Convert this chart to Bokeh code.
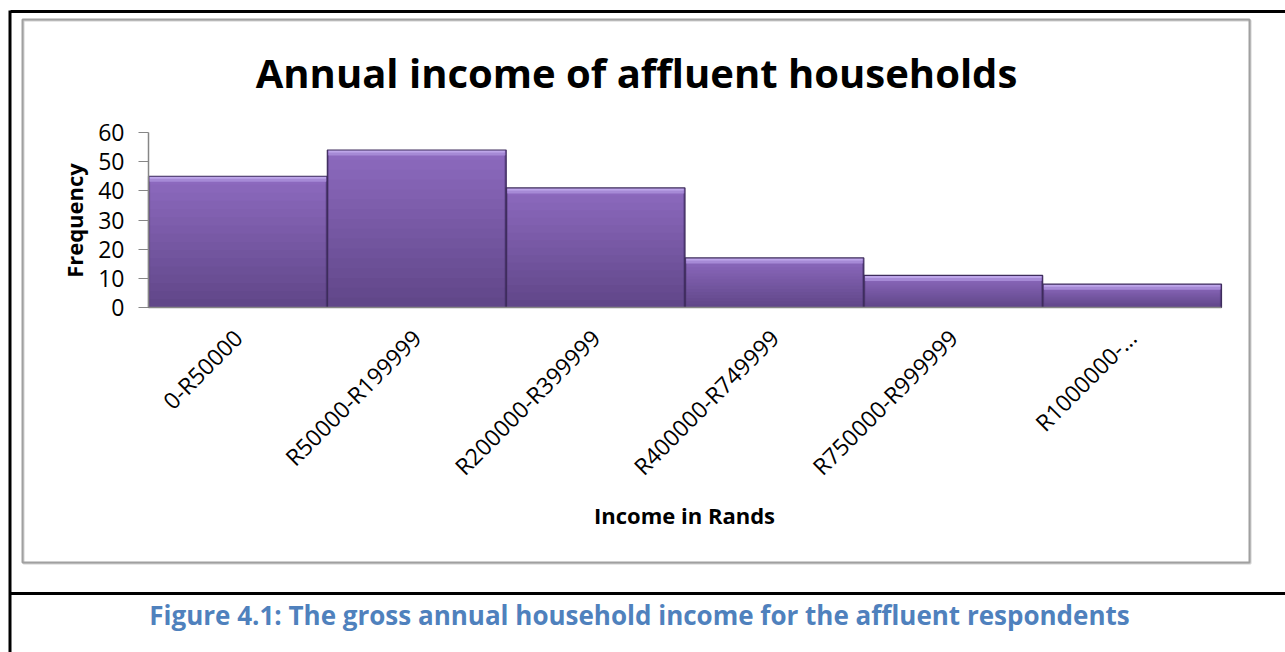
import math
from bokeh.plotting import figure
from bokeh.models import (Range1d, Label, BoxAnnotation, LinearAxis, FixedTicker)
from bokeh.embed import file_html
from bokeh.resources import INLINE

# ---- data ----
categories = ["0-R50000", "R50000-R199999", "R200000-R399999",
              "R400000-R749999", "R750000-R999999", "R1000000-…"]
frequency = [45, 54, 41, 17, 11, 8]
y_ticks = [0, 10, 20, 30, 40, 50, 60]

title_text = "Annual income of affluent households"
x_title = "Income in Rands"
y_title = "Frequency"
caption = "Figure 4.1: The gross annual household income for the affluent respondents"

# ---- layout (canvas pixels) ----
W, H = 1285, 652
FL, FR, FT, FB = 148, 1221, 132, 307     # where the plotting area sits
YMAX = 60
ncat = len(categories)
xs_per_px = ncat / (FR - FL)
ys_per_px = YMAX / (FB - FT)
x_range = Range1d(-FL * xs_per_px, ncat + (W - FR) * xs_per_px)
y_range = Range1d(-(H - FB) * ys_per_px, YMAX + FT * ys_per_px)

p = figure(width=W, height=H, x_range=x_range, y_range=y_range,
           x_axis_location=None, y_axis_location=None,
           output_backend="svg", toolbar_location=None, min_border=0)
p.outline_line_color = None
p.grid.visible = False
p.background_fill_color = "white"
p.border_fill_color = "white"

centers = [i + 0.5 for i in range(ncat)]

# gradient bars (stacked from full height down, no seams)
N = 16
top_c = (0x8E, 0x6B, 0xC0)
bot_c = (0x60, 0x46, 0x88)
for k in range(N - 1, -1, -1):
    f = (k + 0.5) / N
    col = "#%02x%02x%02x" % tuple(int(bot_c[j] + (top_c[j] - bot_c[j]) * f) for j in range(3))
    p.vbar(x=centers, bottom=0, top=[v * (k + 1) / N for v in frequency], width=1.0,
           fill_color=col, line_color=None)
# side shading
p.vbar(x=[c - 0.4955 for c in centers], bottom=0, top=[v - 1.8 for v in frequency], width=0.009,
       fill_color="#5A4080", fill_alpha=0.6, line_color=None)
p.vbar(x=[c + 0.4955 for c in centers], bottom=0, top=[v - 1.8 for v in frequency], width=0.009,
       fill_color="#4A3470", fill_alpha=0.6, line_color=None)
# top bevel highlight
bev = 1.9
p.vbar(x=centers, bottom=[v - bev for v in frequency], top=frequency, width=0.985,
       fill_color="#A68AD6", line_color=None)
p.vbar(x=centers, bottom=[v - bev * 0.45 for v in frequency], top=frequency, width=0.985,
       fill_color="#BDA5E9", line_color=None)
# outline
p.vbar(x=centers, bottom=0, top=frequency, width=1.0, fill_color=None,
       line_color="#3E2C5C", line_width=1.2)

# axes
yax = LinearAxis(fixed_location=0, bounds=(0, YMAX), ticker=FixedTicker(ticks=y_ticks))
xax = LinearAxis(fixed_location=0, bounds=(0, ncat), ticker=FixedTicker(ticks=centers),
                 major_label_overrides={c: lab for c, lab in zip(centers, categories)})
for ax in (xax, yax):
    ax.axis_line_color = "#868686"
    ax.axis_line_width = 1.5
    ax.major_label_text_font = "Open Sans"
    ax.major_label_text_font_size = "23px"
    ax.major_label_text_color = "black"
    ax.minor_tick_line_color = None
yax.major_tick_out = 10
yax.major_tick_in = 0
yax.major_tick_line_color = "#868686"
yax.major_label_standoff = 14
xax.major_tick_line_color = None
xax.major_tick_out = 0
xax.major_label_orientation = math.pi / 4
xax.major_label_standoff = 26
p.add_layout(yax, "left")
p.add_layout(xax, "below")

def add_text(t, x, y, size, bold=True, color="black", angle=0.0):
    p.add_layout(Label(x=x, y=H - y, x_units="screen", y_units="screen", text=t,
                       text_font="Open Sans", text_font_size=size,
                       text_font_style="bold" if bold else "normal",
                       text_color=color, text_align="center", text_baseline="middle",
                       angle=angle))

add_text(title_text, 636, 72, "40px")
add_text(x_title, 684, 514, "22px")
add_text(y_title, 73, 220, "22px", angle=math.pi / 2)
add_text(caption, 639, 614, "26px", color="#4F81BD")

def box(x0, y0, x1, y1, fill=None, line=None, lw=1):
    p.add_layout(BoxAnnotation(left=x0, right=x1, bottom=H - y1, top=H - y0,
                               left_units="screen", right_units="screen",
                               top_units="screen", bottom_units="screen",
                               fill_color=fill if fill else "white",
                               fill_alpha=1.0 if fill else 0.0,
                               line_color=line if line else "white",
                               line_width=lw, line_alpha=1.0 if line else 0.0,
                               level="overlay"))

# chart border (gray) with faint shadow
box(23, 20, 1250, 563, line="#D0D0D0", lw=2)
box(22, 19, 1249, 562, line="#A0A0A0", lw=2)
# page lines (black)
box(10, 9.5, 1285, 12.5, fill="black")
box(8, 10, 11, 652, fill="black")
box(10, 591.5, 1285, 594.5, fill="black")

open("out.html", "w").write(file_html(p, INLINE))
